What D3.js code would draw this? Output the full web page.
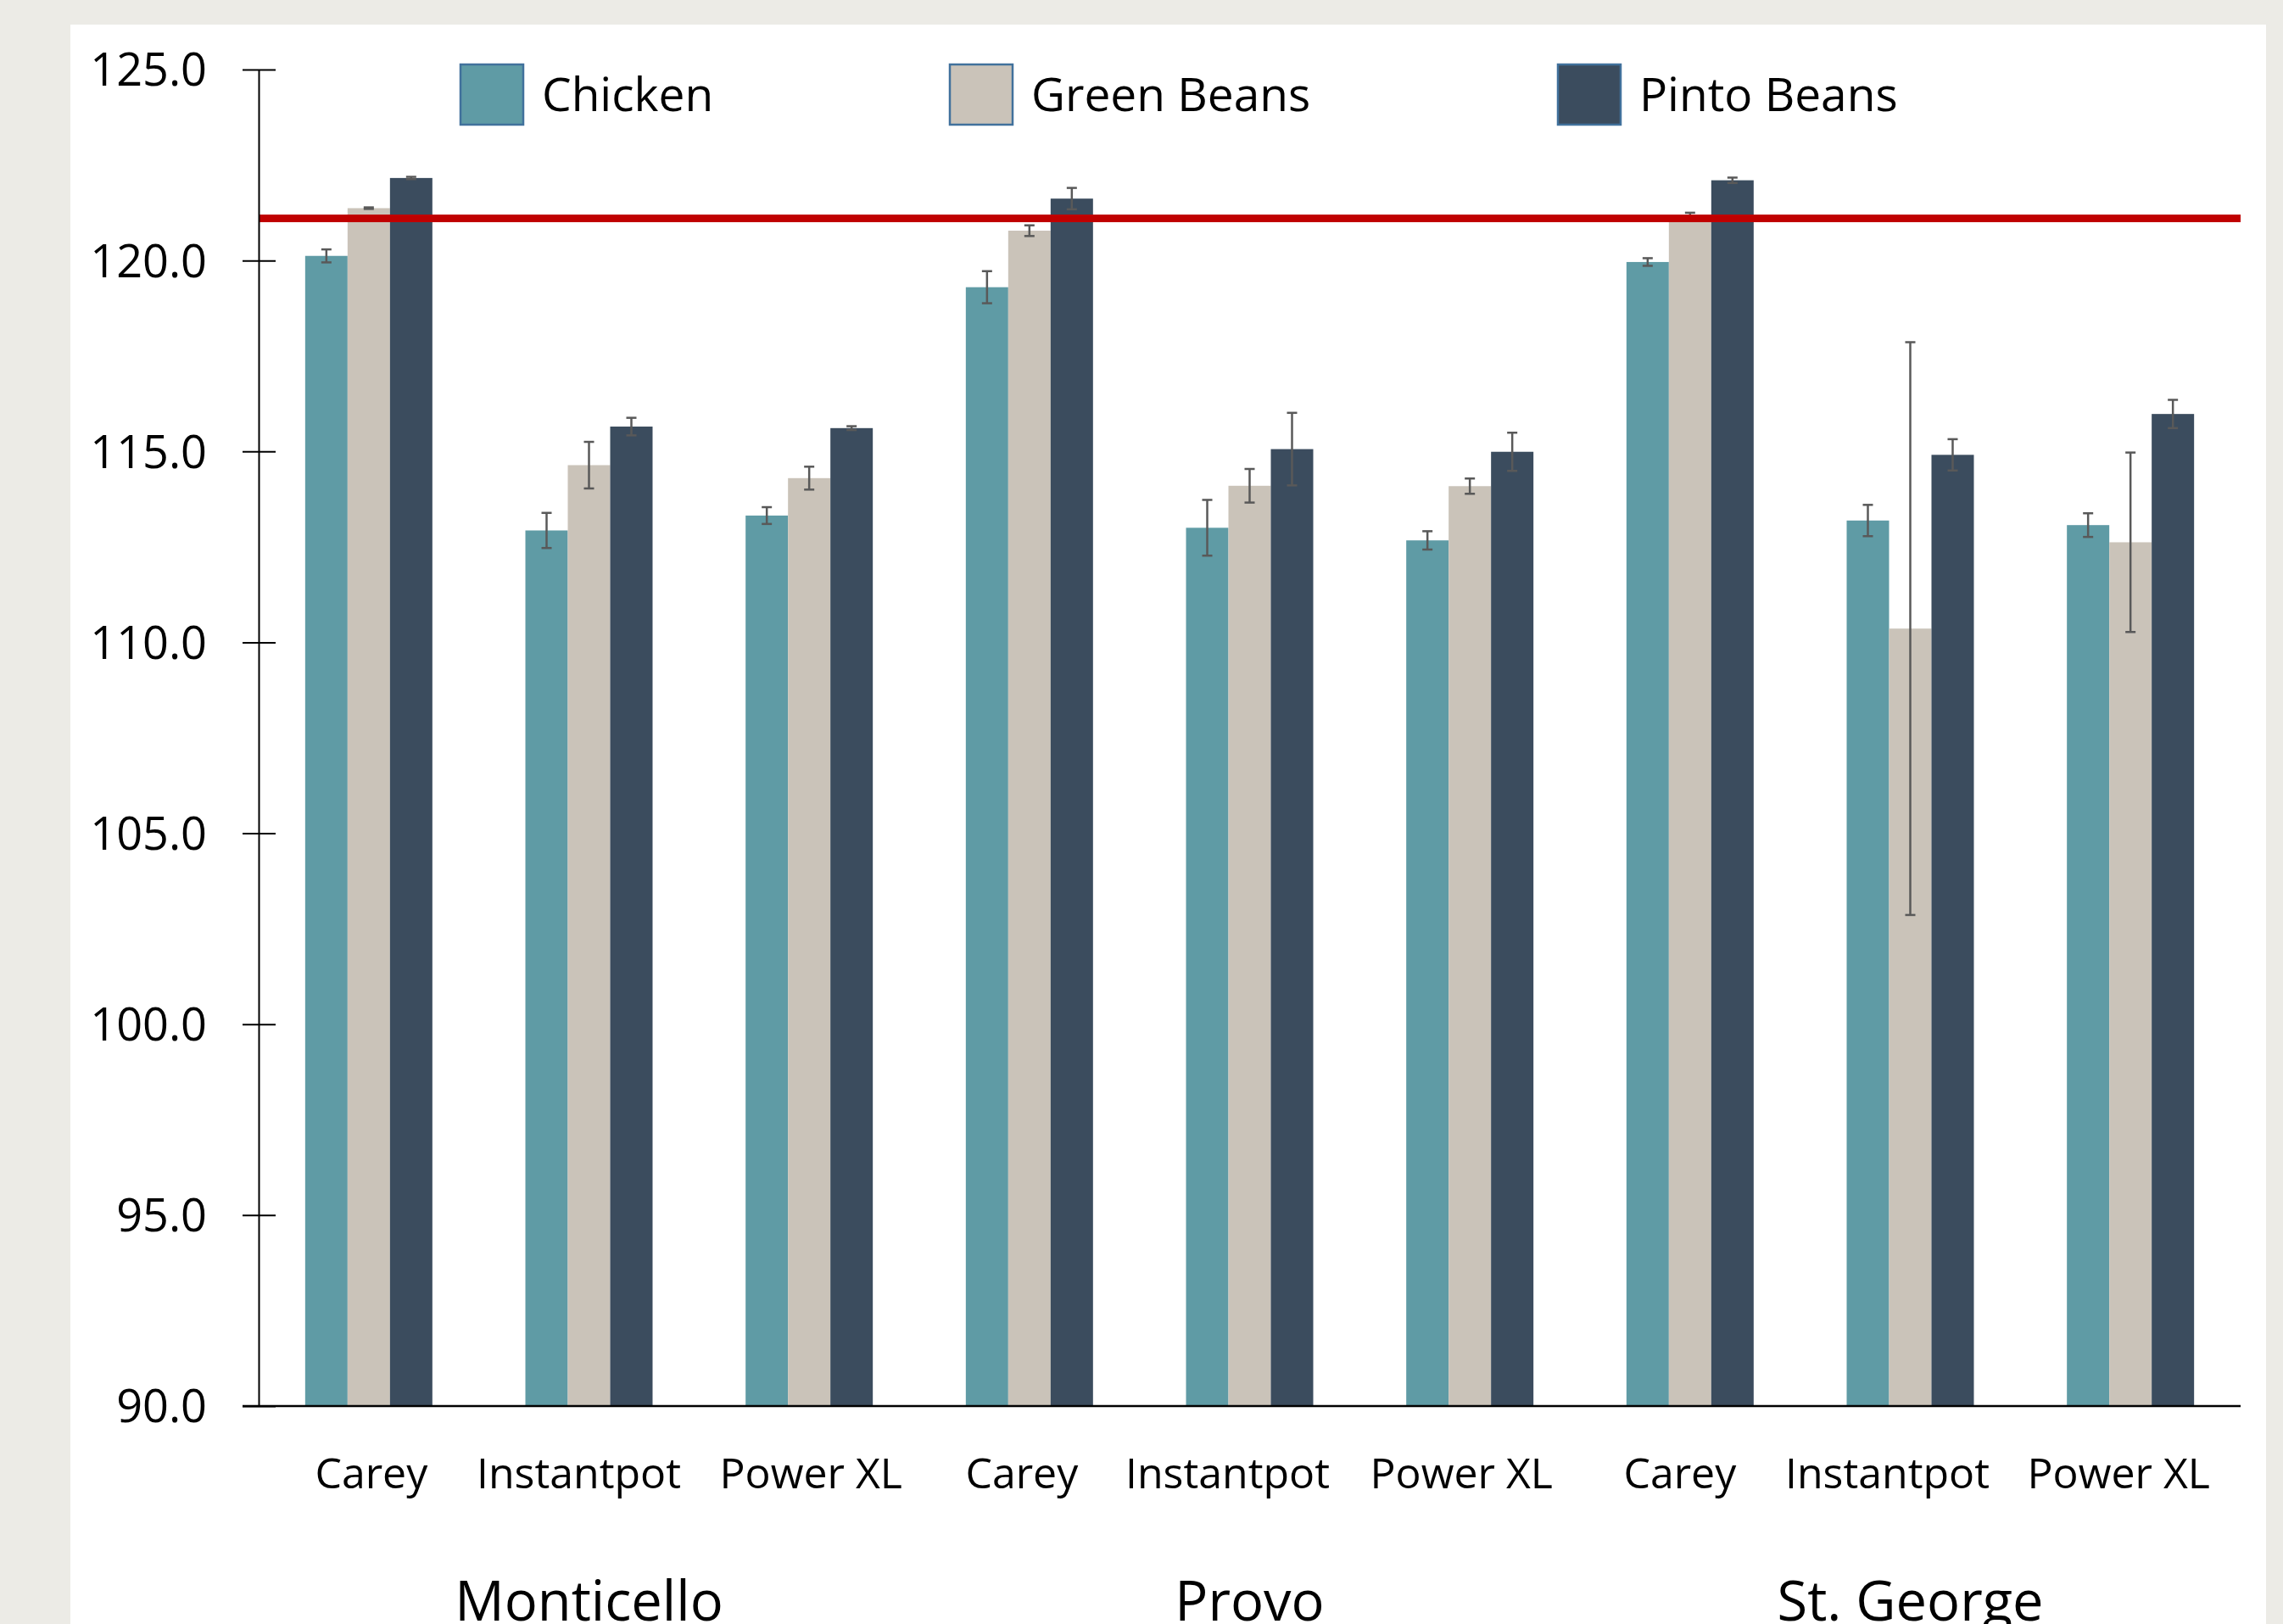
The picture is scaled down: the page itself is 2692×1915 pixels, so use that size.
<!DOCTYPE html>
<html>
<head>
<meta charset="utf-8">
<script src="https://cdn.jsdelivr.net/npm/d3@7"></script>
<style>
  body { margin: 0; background: #ecebe6; }
  svg { display: block; font-family: "Open Sans", sans-serif; }
</style>
</head>
<body>
<svg id="chart" width="2692" height="1915"></svg>
<script>
const locations = ["Monticello", "Provo", "St. George"];
const cookers = ["Carey", "Instantpot", "Power XL"];
const seriesNames = ["Chicken", "Green Beans", "Pinto Beans"];
const chickenMeans = [120.12, 112.93, 113.32, 119.30, 113.00, 112.67, 119.96, 113.19, 113.07];
const chickenErr = [0.17, 0.46, 0.22, 0.42, 0.73, 0.24, 0.10, 0.41, 0.31];
const greenBeanMeans = [121.37, 114.64, 114.30, 120.78, 114.10, 114.09, 121.15, 110.36, 112.62];
const greenBeanErr = [0.02, 0.61, 0.30, 0.14, 0.44, 0.20, 0.10, 7.50, 2.35];
const pintoMeans = [122.16, 115.65, 115.61, 121.62, 115.06, 114.99, 122.10, 114.91, 115.98];
const pintoErr = [0.03, 0.23, 0.05, 0.28, 0.95, 0.50, 0.07, 0.41, 0.37];
const targetLine = 121.1;
const yTicks = [90, 95, 100, 105, 110, 115, 120, 125];

const colors = {
  Chicken: "#5f9ba5",
  "Green Beans": "#cac3b9",
  "Pinto Beans": "#3b4c5e"
};

// one entry per location/cooker pair
const categories = [];
locations.forEach((loc) => cookers.forEach((c) => categories.push({ loc, cooker: c, key: `${loc}|${c}` })));

const seriesData = [
  { name: "Chicken", means: chickenMeans, err: chickenErr },
  { name: "Green Beans", means: greenBeanMeans, err: greenBeanErr },
  { name: "Pinto Beans", means: pintoMeans, err: pintoErr }
];

const bars = [];
seriesData.forEach((s) => {
  s.means.forEach((v, i) => bars.push({ series: s.name, key: categories[i].key, value: v, err: s.err[i] }));
});

// excel places the cooker labels slightly off the band centre
const labelNudge = [3, -12, 2, -9, -26, -10, -12, -27, -14];

const svg = d3.select("#chart");

// white panel
svg.append("rect")
  .attr("x", 83).attr("y", 29)
  .attr("width", 2672 - 83).attr("height", 1915 - 29)
  .attr("fill", "#ffffff");

const plotLeft = 305, plotRight = 2642;

const x0 = d3.scaleBand()
  .domain(categories.map((d) => d.key))
  .range([plotLeft, plotRight])
  .paddingInner(0.4224)
  .paddingOuter(0.2112);

const x1 = d3.scaleBand()
  .domain(seriesNames)
  .range([0, x0.bandwidth()]);

const y = d3.scaleLinear()
  .domain([90, 125])
  .range([1658, 82]);

// bars
svg.append("g")
  .selectAll("rect")
  .data(bars)
  .join("rect")
  .attr("x", (d) => x0(d.key) + x1(d.series))
  .attr("y", (d) => y(d.value))
  .attr("width", x1.bandwidth())
  .attr("height", (d) => y(90) - y(d.value))
  .attr("fill", (d) => colors[d.series]);

// error bars
const errG = svg.append("g")
  .attr("stroke", "#595959")
  .attr("stroke-width", 2.5);

bars.forEach((d) => {
  const cx = x0(d.key) + x1(d.series) + x1.bandwidth() / 2;
  const top = y(d.value + d.err), bottom = y(d.value - d.err);
  errG.append("line").attr("x1", cx).attr("x2", cx).attr("y1", top).attr("y2", bottom);
  errG.append("line").attr("x1", cx - 6).attr("x2", cx + 6).attr("y1", top).attr("y2", top);
  errG.append("line").attr("x1", cx - 6).attr("x2", cx + 6).attr("y1", bottom).attr("y2", bottom);
});

// target line
svg.append("line")
  .attr("x1", plotLeft).attr("x2", plotRight)
  .attr("y1", y(targetLine)).attr("y2", y(targetLine))
  .attr("stroke", "#c00000")
  .attr("stroke-width", 9);

// y axis
const yAxis = svg.append("g")
  .attr("transform", `translate(${plotLeft},0)`)
  .call(d3.axisLeft(y).tickValues(yTicks).tickSize(0).tickFormat(d3.format(".1f")));
yAxis.select(".domain").attr("stroke", "#000").attr("stroke-width", 2);
yAxis.selectAll(".tick text")
  .attr("x", -61)
  .attr("dy", "0.35em")
  .attr("font-size", 54)
  .attr("font-family", "Open Sans")
  .attr("fill", "#000");
yAxis.selectAll(".tick")
  .append("line")
  .attr("x1", -19).attr("x2", 20)
  .attr("stroke", "#000").attr("stroke-width", 2);

// x axis
svg.append("line")
  .attr("x1", 286).attr("x2", plotRight)
  .attr("y1", y(90)).attr("y2", y(90))
  .attr("stroke", "#000").attr("stroke-width", 2.5);

const xAxis = svg.append("g")
  .attr("transform", `translate(0,${y(90)})`)
  .call(d3.axisBottom(x0).tickSize(0).tickFormat((k) => k.split("|")[1]));
xAxis.select(".domain").remove();
xAxis.selectAll(".tick text")
  .attr("x", (k, i) => labelNudge[i])
  .attr("y", 97)
  .attr("dy", 0)
  .attr("font-size", 50)
  .attr("font-family", "Open Sans")
  .attr("fill", "#000");

// location labels
svg.append("g")
  .selectAll("text")
  .data(locations)
  .join("text")
  .attr("x", (loc) => x0(`${loc}|${cookers[1]}`) + x0.bandwidth() / 2)
  .attr("y", 1911)
  .attr("text-anchor", "middle")
  .attr("font-size", 65)
  .attr("fill", "#000")
  .text((d) => d);

// legend
const legendX = [542, 1119, 1836];
const legend = svg.append("g")
  .selectAll("g")
  .data(seriesNames)
  .join("g")
  .attr("transform", (d, i) => `translate(${legendX[i]},75)`);
legend.append("rect")
  .attr("x", 1).attr("y", 1)
  .attr("width", 74).attr("height", 71)
  .attr("fill", (d) => colors[d])
  .attr("stroke", "#41719c")
  .attr("stroke-width", 2.5);
legend.append("text")
  .attr("x", 97)
  .attr("y", 56)
  .attr("font-size", 55)
  .attr("fill", "#000")
  .text((d) => d);
</script>
</body>
</html>
